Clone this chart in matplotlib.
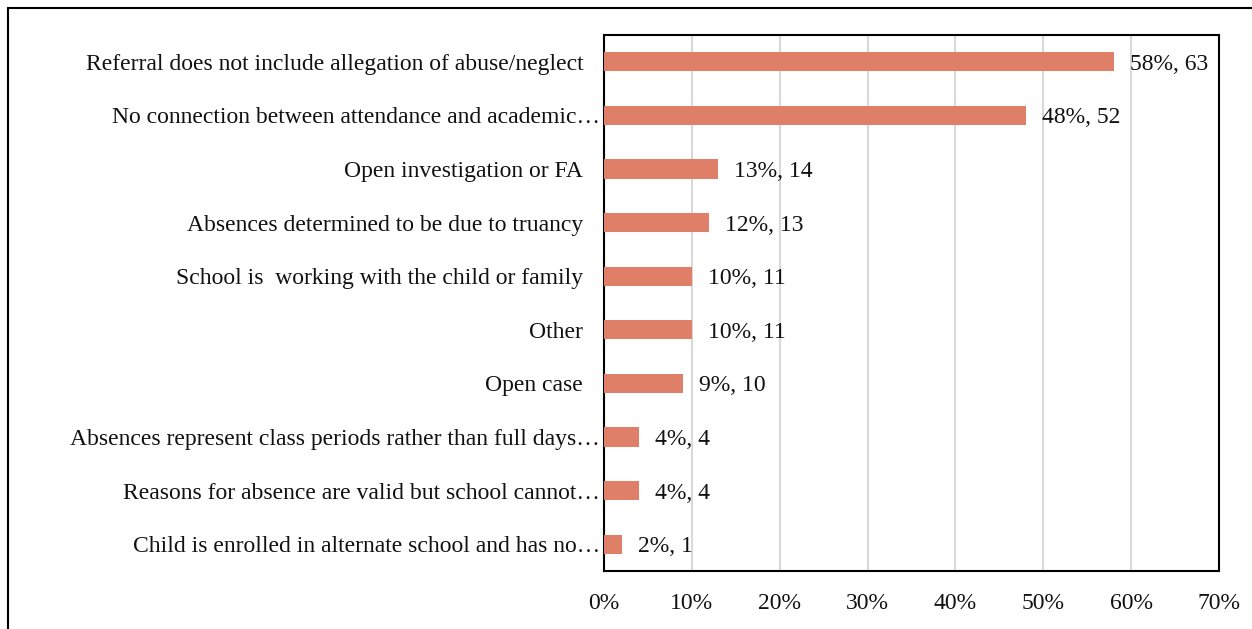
import matplotlib
matplotlib.use("Agg")
import matplotlib.pyplot as plt
from matplotlib.patches import Rectangle
from matplotlib.ticker import PercentFormatter
from matplotlib.transforms import ScaledTranslation

categories = [
    "Referral does not include allegation of abuse/neglect",
    "No connection between attendance and academic\u2026",
    "Open investigation or FA",
    "Absences determined to be due to truancy",
    "School is  working with the child or family",
    "Other",
    "Open case",
    "Absences represent class periods rather than full days\u2026",
    "Reasons for absence are valid but school cannot\u2026",
    "Child is enrolled in alternate school and has no\u2026",
]
percents = [58, 48, 13, 12, 10, 10, 9, 4, 4, 2]
counts = [63, 52, 14, 13, 11, 11, 10, 4, 4, 1]
xticks = [0, 10, 20, 30, 40, 50, 60, 70]

plt.rcParams["font.family"] = ["Liberation Serif", "DejaVu Serif"]
FS = 17
TXT = "#111111"

W, H = 1252, 629
fig = plt.figure(figsize=(W / 100, H / 100), dpi=100)
ax = fig.add_axes([604 / W, 1 - 571 / H, (1219 - 604) / W, (571 - 35) / H])

ypos = list(range(len(categories)))
ax.barh(ypos, percents, height=0.36, color="#E07F68", zorder=3)
for y, p, c in zip(ypos, percents, counts):
    ax.annotate(f"{p}%, {c}", xy=(p, y), xytext=(16, 0),
                textcoords="offset pixels", va="center_baseline", ha="left",
                fontsize=FS, color=TXT, zorder=4)

ax.set_xlim(0, 70)
ax.set_ylim(len(categories) - 0.5, -0.5)
ax.set_yticks(ypos)
ax.set_yticklabels(categories, fontsize=FS, color=TXT)
ax.set_xticks(xticks)
ax.xaxis.set_major_formatter(PercentFormatter(decimals=0))
for lab in ax.get_xticklabels():
    lab.set_fontsize(FS)
    lab.set_color(TXT)
ax.tick_params(axis="both", length=0)
ax.tick_params(axis="x", pad=16)
ax.tick_params(axis="y", pad=15)

# truncated category names sit with their ellipsis running up to the axis
shift = ScaledTranslation(17 / 100, 0, fig.dpi_scale_trans)
for lab in ax.get_yticklabels():
    if lab.get_text().endswith("\u2026"):
        lab.set_transform(lab.get_transform() + shift)

ax.grid(axis="x", color="#D9D9D9", linewidth=1.5, zorder=0)
ax.set_axisbelow(True)
for s in ax.spines.values():
    s.set_linewidth(1.5)
    s.set_color("black")

# outer frame of the figure
fig.patches.append(Rectangle((8 / W, -0.1), 1.2, 1 - 8 / H + 0.1,
                             transform=fig.transFigure, fill=False,
                             edgecolor="black", linewidth=1.5))

fig.savefig("out.png", dpi=100)
